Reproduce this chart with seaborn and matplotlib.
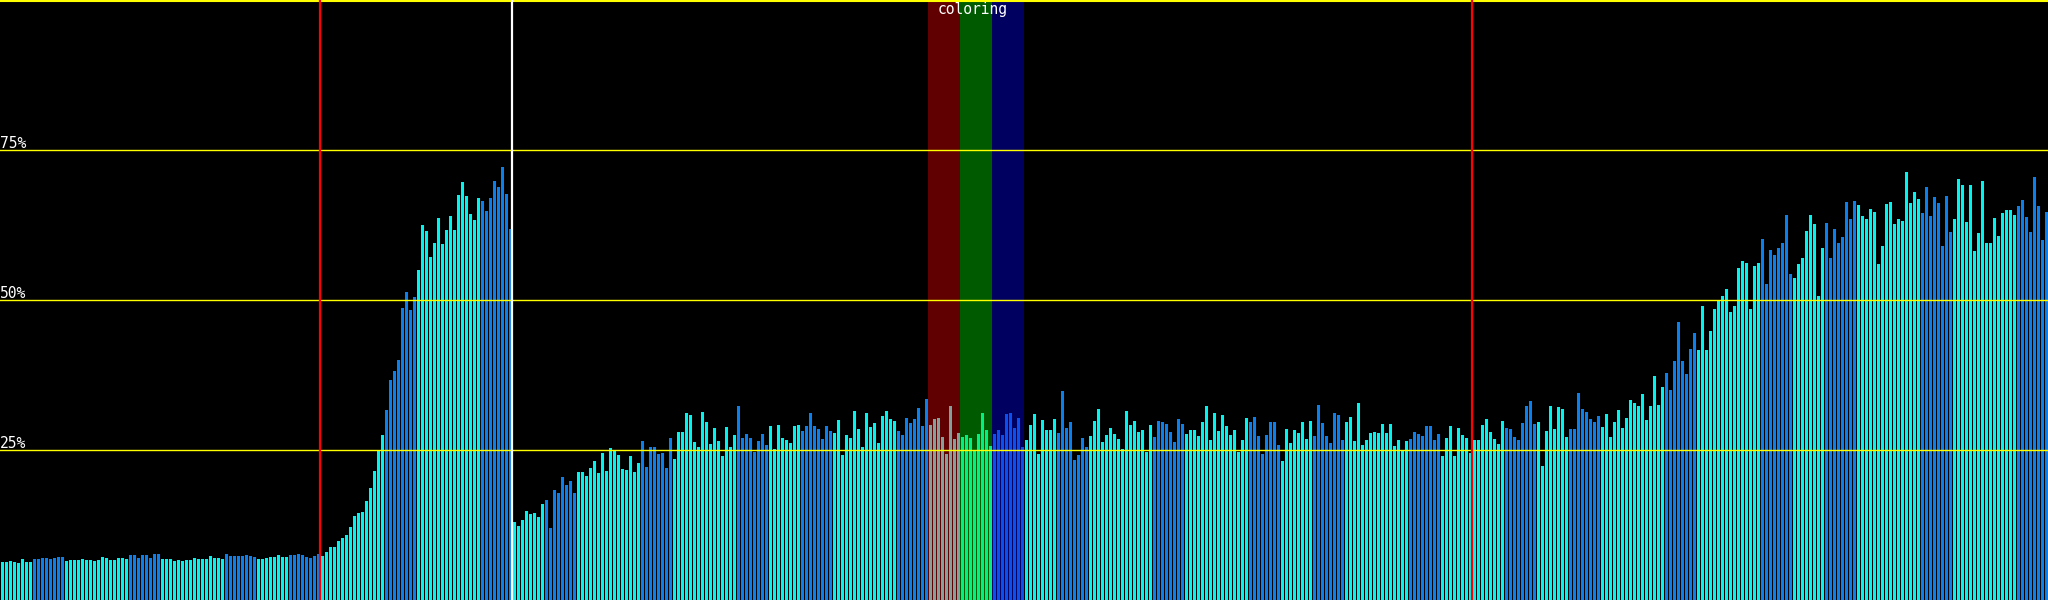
import numpy as np
import pandas as pd
import seaborn as sns
import matplotlib.pyplot as plt

# bar heights in percent, one per bar (512 bars)
values = [
    6.3, 6.3, 6.5, 6.3, 6.2, 6.8, 6.3, 6.3, 6.8, 6.8, 7.0, 7.0, 6.8, 7.0, 7.2, 7.2,
    6.5, 6.7, 6.7, 6.7, 6.8, 6.7, 6.7, 6.5, 6.7, 7.2, 7.0, 6.7, 6.7, 7.0, 7.0, 6.8,
    7.5, 7.5, 7.0, 7.5, 7.5, 7.0, 7.7, 7.7, 6.8, 6.8, 6.8, 6.5, 6.7, 6.5, 6.7, 6.7,
    7.0, 6.8, 6.8, 6.8, 7.3, 7.0, 7.0, 6.8, 7.7, 7.3, 7.3, 7.3, 7.3, 7.5, 7.3, 7.2,
    6.8, 6.8, 7.0, 7.2, 7.2, 7.5, 7.2, 7.2, 7.5, 7.5, 7.7, 7.5, 7.2, 7.0, 7.3, 7.7,
    7.3, 8.0, 8.8, 8.8, 9.8, 10.3, 10.8, 12.2, 14.0, 14.5, 14.7, 16.5, 18.7, 21.5, 24.8, 27.5,
    31.7, 36.7, 38.2, 40.0, 48.7, 51.3, 48.3, 50.5, 55.0, 62.5, 61.5, 57.2, 59.5, 63.7, 59.3, 61.7,
    64.0, 61.7, 67.5, 69.7, 67.3, 64.3, 63.3, 67.0, 66.5, 64.8, 67.0, 69.8, 68.8, 72.2, 67.7, 61.8,
    13.0, 12.3, 13.3, 14.8, 14.3, 14.5, 13.8, 16.0, 16.7, 12.0, 18.3, 17.8, 20.5, 19.2, 19.8, 17.8,
    21.3, 21.3, 20.7, 22.0, 23.2, 21.2, 24.5, 21.5, 25.3, 25.0, 24.2, 21.8, 21.7, 24.0, 21.3, 22.8,
    26.5, 22.2, 25.5, 25.5, 24.3, 24.5, 22.0, 27.0, 23.5, 28.0, 28.0, 31.2, 30.8, 26.3, 25.5, 31.3,
    29.7, 26.0, 28.7, 26.5, 24.0, 28.8, 25.5, 27.5, 32.3, 27.0, 27.7, 27.0, 24.7, 26.5, 27.7, 25.8,
    29.0, 25.2, 29.2, 27.0, 26.7, 26.2, 29.0, 29.2, 28.2, 29.0, 31.2, 29.0, 28.5, 26.8, 29.0, 28.2,
    27.8, 30.0, 24.2, 27.5, 27.0, 31.5, 28.5, 25.5, 31.2, 28.8, 29.5, 26.2, 30.7, 31.5, 30.2, 29.8,
    28.2, 27.5, 30.3, 29.5, 30.2, 32.0, 29.0, 33.5, 29.2, 30.2, 30.3, 27.2, 24.3, 32.3, 26.8, 27.8,
    27.2, 27.5, 27.0, 25.0, 27.7, 31.2, 28.3, 25.7, 27.7, 28.3, 27.5, 31.0, 31.2, 28.7, 30.3, 25.5,
    26.7, 29.2, 31.0, 24.3, 30.0, 28.3, 28.3, 30.2, 27.8, 34.8, 28.7, 29.7, 23.3, 24.2, 27.0, 25.5,
    27.3, 29.8, 31.8, 26.3, 27.5, 28.7, 27.7, 26.8, 25.2, 31.5, 29.2, 29.8, 28.0, 28.3, 24.7, 29.2,
    27.2, 29.8, 29.7, 29.3, 28.0, 26.3, 30.2, 29.3, 27.7, 28.3, 28.3, 27.3, 29.7, 32.3, 26.7, 31.2,
    28.2, 30.8, 29.0, 27.5, 28.3, 24.7, 26.7, 30.3, 29.7, 30.5, 27.3, 24.3, 27.5, 29.7, 29.7, 25.8,
    23.2, 28.5, 26.2, 28.3, 27.8, 29.7, 26.8, 29.8, 27.3, 32.5, 29.5, 27.3, 26.2, 31.2, 30.8, 26.7,
    29.7, 30.5, 26.5, 32.8, 25.8, 26.7, 27.8, 28.0, 27.8, 29.3, 27.8, 29.3, 25.7, 26.7, 25.0, 26.5,
    26.8, 28.0, 27.7, 27.3, 29.0, 29.0, 26.7, 27.7, 24.0, 27.0, 29.0, 24.0, 28.7, 27.5, 27.0, 24.5,
    26.7, 26.7, 29.2, 30.2, 28.0, 26.8, 26.0, 29.8, 28.7, 28.5, 27.2, 26.7, 29.5, 32.3, 33.2, 29.3,
    29.7, 22.3, 28.2, 32.3, 28.5, 32.2, 31.8, 27.2, 28.5, 28.5, 34.5, 31.8, 31.3, 30.2, 29.7, 30.7,
    28.8, 31.0, 27.2, 29.7, 31.7, 28.7, 30.3, 33.3, 32.8, 32.3, 34.3, 30.0, 32.3, 37.3, 32.5, 35.5,
    37.8, 35.0, 39.8, 46.3, 39.8, 37.7, 41.8, 44.5, 41.7, 49.0, 41.7, 44.8, 48.5, 49.8, 50.7, 51.8,
    48.0, 49.0, 55.3, 56.5, 56.2, 48.5, 55.7, 56.2, 60.2, 52.7, 58.3, 57.5, 58.7, 59.5, 64.2, 54.3,
    53.7, 56.0, 57.0, 61.5, 64.2, 62.7, 50.7, 58.7, 62.8, 57.0, 61.8, 59.5, 60.5, 66.3, 63.5, 66.5,
    65.8, 64.0, 63.5, 65.2, 64.7, 56.0, 59.0, 66.0, 66.3, 62.7, 63.5, 63.2, 71.3, 66.2, 68.0, 66.8,
    64.5, 68.8, 64.0, 67.2, 66.2, 59.0, 67.3, 61.3, 63.5, 70.2, 69.2, 63.0, 69.2, 58.2, 61.2, 69.8,
    59.5, 59.5, 63.7, 60.7, 64.5, 65.0, 65.0, 64.2, 65.7, 66.7, 63.8, 61.3, 70.5, 65.7, 60.0, 64.7,
]

# colour kind of each block of 8 bars (64 blocks)
block_kinds = [
    "C", "B", "C", "C", "B", "C", "C", "B",
    "C", "B", "C", "C", "B", "C", "C", "B",
    "C", "B", "C", "C", "B", "C", "C", "B",
    "C", "B", "C", "C", "B", "R", "G", "N",
    "C", "B", "C", "C", "B", "C", "C", "B",
    "C", "B", "C", "C", "B", "C", "C", "B",
    "C", "B", "C", "C", "B", "C", "C", "B",
    "C", "B", "C", "C", "B", "C", "C", "B",
]

grid_levels = [25, 50, 75]
grid_labels = ["25%", "50%", "75%"]
red_marks = [79.5, 367.5]
white_marks = [127.5]
bands = [(231.5, 239.5, "#600000"), (239.5, 247.5, "#005a00"), (247.5, 255.5, "#000060")]
band_title = "coloring"

palette = {"C": "#00f4f0", "B": "#0a80f0", "R": "#82a09c", "G": "#00f082", "N": "#0a50f0"}

df = pd.DataFrame({
    "bar": np.arange(len(values)),
    "value": values,
    "kind": [block_kinds[i // 8] for i in range(len(values))],
})

fig = plt.figure(figsize=(20.48, 6), dpi=100, facecolor="black")
ax = fig.add_axes([0, 0, 1, 1])
ax.set_facecolor("black")

for x0, x1, c in bands:
    ax.axvspan(x0, x1, color=c, lw=0, zorder=0)

sns.barplot(data=df, x="bar", y="value", hue="kind", palette=palette, dodge=False,
            width=0.75, saturation=1, linewidth=0, errorbar=None, legend=False,
            ax=ax, zorder=2)

for lvl in grid_levels:
    ax.axhline(lvl, color="#ffff00", lw=1.0, zorder=3)
ax.axhline(99.9, color="#ffff00", lw=1.5, zorder=3)
for xm in red_marks:
    ax.axvline(xm, color="#ff0000", lw=1.6, zorder=4)
for xm in white_marks:
    ax.axvline(xm, color="#ffffff", lw=1.6, zorder=4)

for lvl, lab in zip(grid_levels, grid_labels):
    ax.text(-0.5, lvl + 0.3, lab, color="white", fontsize=10.5,
            family="DejaVu Sans Mono", ha="left", va="baseline", zorder=5)
ax.text((bands[0][0] + bands[-1][1]) / 2 - 0.8, 99.6, band_title, color="white",
        fontsize=10.5, family="DejaVu Sans Mono", ha="center", va="top", zorder=5)

ax.set_xlim(-0.5, len(values) - 0.5)
ax.set_ylim(0, 100)
ax.set_xlabel("")
ax.set_ylabel("")
ax.set_xticks([])
ax.set_yticks([])
for s in ax.spines.values():
    s.set_visible(False)

fig.savefig("out.png", dpi=100, facecolor="black")
